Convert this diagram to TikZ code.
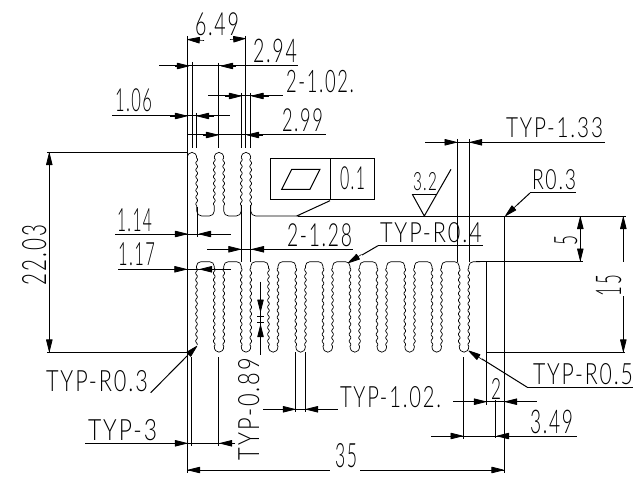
\documentclass[tikz,border=0pt]{standalone}
\usepackage{graphicx}
\usepackage{fontspec}
\usetikzlibrary{arrows.meta}
\newfontfamily\cadf[LetterSpace=9]{Lato Light}
\tikzset{
  part/.style={line width=0.7pt,black},
  thinl/.style={line width=1pt,black},
  tipped/.style={line width=0.6pt,black,-{Triangle[length=13.5pt,width=6.5pt,round,line width=0.8pt,fill=black]}},
  cadtext/.style={inner sep=0pt,outer sep=0pt,anchor=base west,text=black}
}
\newcommand\wig[4]{\draw[part] plot[variable=\t,domain=#2:#3,samples=70,smooth] ({#1+#4*0.9*sin((\t-#2)/6.8*360)},{\t});}
\newcommand\dtxt[6]{\node[cadtext] (#1) at (#2,#3) {\resizebox{#4pt}{\dimexpr #5pt*120/100\relax}{\cadf\fontsize{24}{24}\selectfont #6}};}
\newcommand\rtxt[6]{\node[cadtext,rotate=90] (#1) at (#2,#3) {\resizebox{#4pt}{\dimexpr #5pt*120/100\relax}{\cadf\fontsize{24}{24}\selectfont #6}};}
\newcommand\arw[4]{\draw[tipped] (#1,#2) -- (#3,#4);}
\begin{document}
\begin{tikzpicture}[x=1pt,y=-1pt]
\useasboundingbox (0,0) rectangle (644,486);
\fill[white] (0,0) rectangle (644,486);
% ---- upper fins
\draw[thinl] (187.3,36) -- (187.3,473);
\draw[part] (187.3,158) .. controls (187.3,150.5) and (196.7,150.5) .. (196.7,158);
\wig{196.7}{158}{205.6}{1}
\draw[part,rounded corners=5pt] (196.7,205.6) -- (196.7,216) -- (214.3,216) -- (214.3,205.6);
\wig{214.3}{158}{205.6}{1}
\draw[part] (214.3,158) .. controls (214.3,150.5) and (223.7,150.5) .. (223.7,158);
\wig{223.7}{158}{205.6}{-1}
\draw[part,rounded corners=5pt] (223.7,205.6) -- (223.7,216) -- (241.3,216) -- (241.3,205.6);
\wig{241.3}{158}{205.6}{1}
\draw[part] (241.3,158) .. controls (241.3,150.5) and (250.7,150.5) .. (250.7,158);
\wig{250.7}{158}{205.6}{-1}
\draw[part,rounded corners=5pt] (250.7,205.6) -- (250.7,216) -- (300,216);
\draw[thinl] (298,216) -- (625.7,216);
\draw[thinl] (504.3,216) -- (504.3,473);
% ---- lower comb
\wig{196.5}{268}{345}{1}
\foreach \c in {219,246,273.2,300.6,327.8,354.8,381.8,409.6,436.7,464}{
  \pgfmathsetmacro\lx{\c-4.8}
  \pgfmathsetmacro\rx{\c+4.8}
  \wig{\lx}{268}{346.2}{1}
  \wig{\rx}{268}{346.2}{-1}
  \draw[part] (\lx,346.2) .. controls (\lx,354.2) and (\rx,354.2) .. (\rx,346.2);
}
\foreach \a/\b in {196.5/214.2,223.8/241.2,250.8/268.4,278/295.8,305.4/323,332.6/350,359.6/377,386.6/404.8,414.4/431.9,441.5/459.2}{
  \draw[part,rounded corners=4.5pt] (\a,268) -- (\a,261.7) -- (\b,261.7) -- (\b,268);
}
\draw[part,rounded corners=4.5pt] (468.8,268) -- (468.8,261.7) -- (480,261.7);
\draw[thinl] (476,261.7) -- (583,261.7);
\draw[thinl] (486,261.7) -- (486,352.3) -- (625,352.3);
% ---- extension lines
\draw[thinl] (192.3,62) -- (192.3,148);
\draw[thinl] (196.5,113) -- (196.5,148);
\draw[thinl] (218.7,63) -- (218.7,148);
\draw[thinl] (241.2,93) -- (241.2,148);
\draw[thinl] (245.7,36) -- (245.7,148);
\draw[thinl] (250.7,93) -- (250.7,148);
\draw[thinl] (197.3,207) -- (197.3,237);
\draw[thinl] (241.2,205) -- (241.2,262);
\draw[thinl] (250.7,205) -- (250.7,262);
\draw[thinl] (457.3,139) -- (457.3,262);
\draw[thinl] (469.2,139) -- (469.2,262);
\draw[thinl] (47,152.3) -- (187.3,152.3);
\draw[thinl] (47,352.3) -- (187.3,352.3);
\draw[thinl] (191.7,357) -- (191.7,446);
\draw[thinl] (218.7,357) -- (218.7,446);
\draw[thinl] (295.7,352) -- (295.7,412);
\draw[thinl] (305.3,352) -- (305.3,412);
\draw[thinl] (463.3,357) -- (463.3,439);
\draw[thinl] (486.7,352) -- (486.7,405);
\draw[thinl] (495.7,400) -- (495.7,438);
% ---- dimension lines
\draw[thinl] (159,66) -- (298,66);
\draw[thinl] (208,96) -- (283,96);
\draw[thinl] (112,116) -- (230,116);
\draw[thinl] (187,135) -- (326,135);
\draw[thinl] (115,234) -- (230.7,234);
\draw[thinl] (207,249.3) -- (352.7,249.3);
\draw[thinl] (118,269.3) -- (230.7,269.3);
\draw[thinl] (425,142.3) -- (605,142.3);
\draw[thinl] (378,245.7) -- (482.7,245.7);
\draw[thinl] (530,193) -- (576,193);
\draw[thinl] (49.3,152.3) -- (49.3,352.3);
\draw[thinl] (580.3,216) -- (580.3,261.7);
\draw[thinl] (623.3,216) -- (623.3,262);
\draw[thinl] (623.3,296) -- (623.3,352.3);
\draw[thinl] (260.5,281.7) -- (260.5,355);
\draw[thinl] (257,316) -- (264,316);
\draw[thinl] (257,322.7) -- (264,322.7);
\draw[thinl] (85,443.3) -- (235,443.3);
\draw[thinl] (263.3,409.3) -- (338,409.3);
\draw[thinl] (453,401.7) -- (537,401.7);
\draw[thinl] (431,436) -- (577,436);
\draw[thinl] (187.3,470) -- (330,470);
\draw[thinl] (360,470) -- (504.3,470);
\draw[thinl] (527,387.3) -- (633,387.3);
% ---- arrowheads
\arw{204}{40.5}{187.6}{39.5}
\arw{230}{39.5}{245.4}{38.5}
\arw{175}{66}{189}{66}
\arw{236}{66}{221}{66}
\arw{225}{96}{241}{96}
\arw{269}{96}{251.5}{96}
\arw{170}{116}{187}{116}
\arw{214}{116}{197}{116}
\arw{203}{135}{218}{135}
\arw{263}{135}{247}{135}
\arw{170}{234}{187}{234}
\arw{214}{234}{199}{234}
\arw{223}{249.3}{240.5}{249.3}
\arw{268}{249.3}{252}{249.3}
\arw{170}{269.3}{186.5}{269.3}
\arw{215}{269.3}{200}{269.3}
\arw{441}{142.3}{456.7}{142.3}
\arw{487}{142.3}{470}{142.3}
\arw{49.3}{168}{49.3}{153}
\arw{49.3}{337}{49.3}{351.6}
\arw{580.3}{232}{580.3}{217}
\arw{580.3}{245}{580.3}{260.7}
\arw{623.3}{232}{623.3}{217}
\arw{623.3}{337}{623.3}{351.6}
\arw{260.5}{298}{260.5}{311.7}
\arw{260.5}{339.3}{260.5}{325}
\arw{175}{443.3}{187}{443.3}
\arw{235}{443.3}{220}{443.3}
\arw{279}{409.3}{295}{409.3}
\arw{321.7}{409.3}{306}{409.3}
\arw{470}{401.7}{486}{401.7}
\arw{522}{401.7}{505}{401.7}
\arw{447}{436}{462.7}{436}
\arw{512}{436}{497}{436}
\arw{204}{470}{188}{470}
\arw{488}{470}{503.6}{470}
% ---- leaders
\draw[thinl] (378,245.7) -- (362,255);
\arw{361.5}{254.5}{348}{263}
\draw[thinl] (530,193) -- (517,205);
\arw{518}{204}{505.3}{216}
\draw[thinl] (150.7,392.7) -- (187,356);
\arw{186}{357}{197}{346}
\draw[thinl] (527.3,387.3) -- (482,359);
\arw{483}{360}{468.5}{350.7}
% ---- feature control frame
\draw[thinl] (270,158.3) rectangle (374,200);
\draw[thinl] (330,158.3) -- (330,200);
\draw[thinl] (281.7,189.3) -- (291.7,169.3) -- (320,169.3) -- (310,189.3) -- cycle;
\draw[thinl] (330,200.7) -- (296.7,216);
% ---- roughness symbol
\draw[thinl] (412.3,194.3) -- (437.3,194.3);
\draw[thinl] (412.3,194.3) -- (424.3,216) -- (451,169.3);
% ---- texts
\dtxt{ta}{195}{36}{44}{19}{6.49}
\dtxt{tb}{253}{63}{44}{19.5}{2.94}
\dtxt{tc}{286}{93}{68}{18.5}{2-1.02.}
\dtxt{td}{115}{112}{37}{19}{1.06}
\dtxt{te}{282}{132}{41}{19}{2.99}
\dtxt{tf}{117}{231}{35}{19}{1.14}
\dtxt{tg}{287}{246.5}{65}{19}{2-1.28}
\dtxt{th}{118}{265}{37}{19}{1.17}
\dtxt{ti}{340}{190}{25}{19}{0.1}
\dtxt{tj}{413}{191}{24}{15}{3.2}
\dtxt{tk}{506}{138}{97}{16.6}{TYP-1.33}
\dtxt{tl}{532}{190}{44}{16.6}{R0.3}
\dtxt{tm}{380}{242}{102}{16.6}{TYP-R0.4}
\dtxt{tn}{46}{391}{102}{17.5}{TYP-R0.3}
\dtxt{to}{88}{440}{69}{17.5}{TYP-3}
\dtxt{tp}{340}{407}{101}{17.5}{TYP-1.02.}
\dtxt{tq}{491}{399}{10}{17.5}{2}
\dtxt{tr}{530}{433}{43}{19.5}{3.49}
\dtxt{ts}{533}{384}{100}{17.5}{TYP-R0.5}
\dtxt{tt}{335}{467}{22}{20}{35}
\rtxt{tu}{46}{285}{60}{20}{22.03}
\rtxt{tv}{577}{245}{10}{19}{5}
\rtxt{tw}{621}{296}{21}{21}{15}
\rtxt{tx}{259}{460}{102}{17.5}{TYP-0.89}
\end{tikzpicture}
\end{document}
